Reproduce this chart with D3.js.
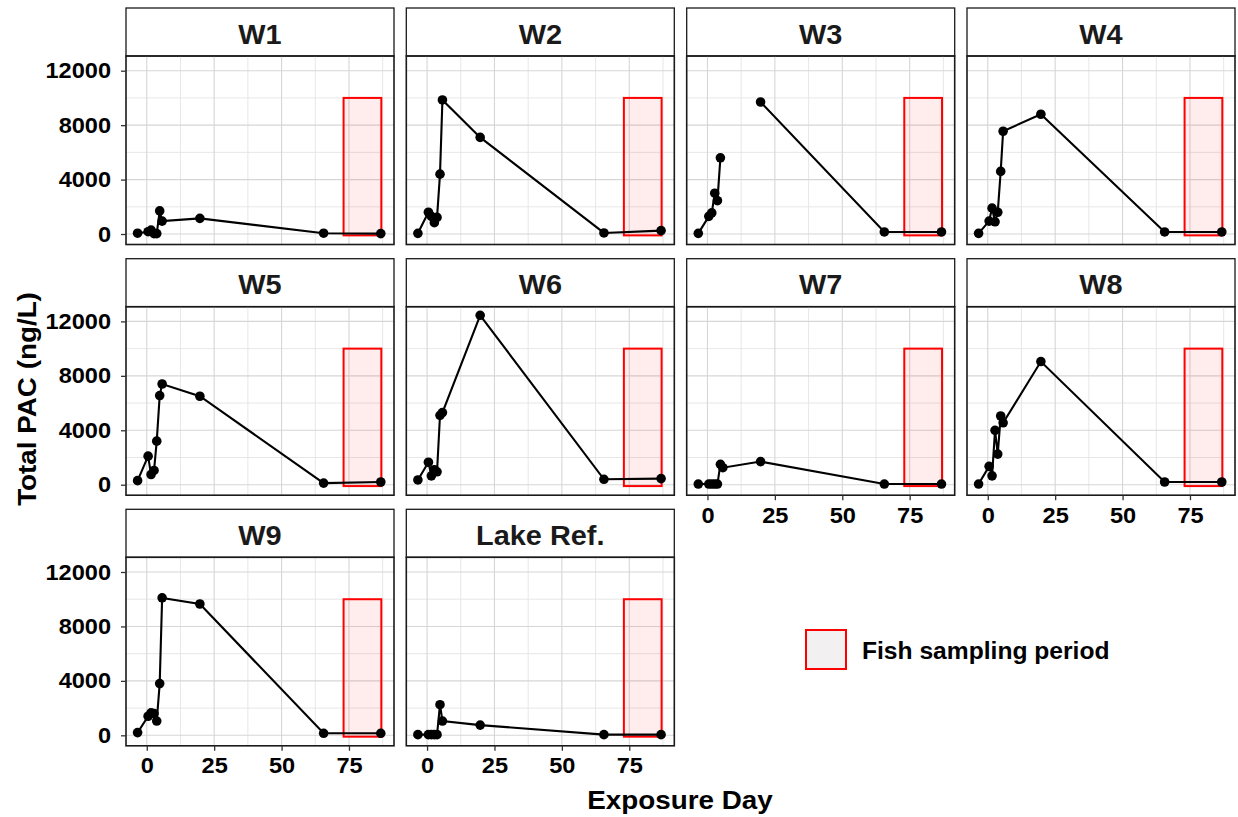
<!DOCTYPE html>
<html>
<head>
<meta charset="utf-8">
<script src="https://cdn.jsdelivr.net/npm/d3@7"></script>
<style>
  html, body { margin: 0; padding: 0; background: #ffffff; }
  svg { display: block; font-family: "Liberation Sans", Arial, sans-serif; }
</style>
</head>
<body>
<svg id="chart" width="1238" height="817"></svg>
<script>
// Sampling days (shared by all sites)
const days = [-3.4, 0.5, 1.6, 2.7, 3.7, 4.8, 5.7, 19.7, 65.6, 86.8];

// Total PAC (ng/L) per site; null = no sample
const W1 = [60, 170, 290, 30, 30, 1700, 950, 1150, 60, 30];
const W2 = [50, 1600, 1300, 830, 1220, 4400, 9850, 7100, 80, 250];
const W3 = [50, 1300, 1550, 3000, 2450, 5600, null, 9700, 150, 150];
const W4 = [50, 950, 1900, 900, 1600, 4600, 7550, 8800, 150, 150];
const W5 = [300, 2100, 750, 1050, 3200, 6550, 7400, 6500, 120, 200];
const W6 = [350, 1650, 650, 1100, 950, 5100, 5300, 12450, 400, 450];
const W7 = [50, 50, 50, 50, 50, 1500, 1250, 1700, 50, 50];
const W8 = [50, 1350, 650, 4000, 2250, 5050, 4550, 9050, 200, 200];
const W9 = [200, 1400, 1650, 1600, 1050, 3800, 10100, 9650, 150, 150];
const LakeRef = [50, 50, 50, 50, 50, 2250, 1050, 750, 50, 50];

const siteNames = ["W1", "W2", "W3", "W4", "W5", "W6", "W7", "W8", "W9", "Lake Ref."];
const siteValues = [W1, W2, W3, W4, W5, W6, W7, W8, W9, LakeRef];

// Fish sampling period
const samplingStart = 73;
const samplingEnd = 87;
const samplingLow = -100;
const samplingHigh = 10000;

const xTicks = [0, 25, 50, 75];
const xMinor = [12.5, 37.5, 62.5, 87.5];
const yTicks = [0, 4000, 8000, 12000];
const yMinor = [2000, 6000, 10000];

const xTitle = "Exposure Day";
const yTitle = "Total PAC (ng/L)";
const legendLabel = "Fish sampling period";

// Layout
const colLeft = [126, 406.3, 686.7, 967];
const rowTop = [8, 258.7, 509.3];
const panelW = 268;
const stripH = 48;
const plotH = 188.5;
const nCols = 4;
const widen = 1.07; // horizontal stretch applied to text runs

const svg = d3.select("#chart");

const x = d3.scaleLinear().domain([-7.7, 91.7]).range([0, panelW]);
const y = d3.scaleLinear().domain([-770, 13080]).range([plotH, 0]);

const line = d3.line()
  .defined(d => d.v != null)
  .x(d => x(d.day))
  .y(d => y(d.v));

function stretch(sel) {
  sel.each(function () {
    const w = this.getComputedTextLength();
    d3.select(this).attr("textLength", w * widen).attr("lengthAdjust", "spacingAndGlyphs");
  });
}

siteNames.forEach((name, i) => {
  const col = i % nCols;
  const row = Math.floor(i / nCols);
  const left = colLeft[col];
  const top = rowTop[row];
  const g = svg.append("g").attr("transform", `translate(${left},${top})`);

  // strip
  g.append("rect")
    .attr("x", 0).attr("y", 0).attr("width", panelW).attr("height", stripH)
    .attr("fill", "#ffffff").attr("stroke", "#1a1a1a").attr("stroke-width", 1.3);
  g.append("text")
    .attr("x", panelW / 2).attr("y", 35.5)
    .attr("text-anchor", "middle")
    .attr("font-size", 27).attr("font-weight", "bold").attr("fill", "#1a1a1a")
    .text(name)
    .call(stretch);

  const p = g.append("g").attr("transform", `translate(0,${stripH})`);

  // grid
  p.append("g").selectAll("line").data(yMinor).join("line")
    .attr("x1", 0).attr("x2", panelW).attr("y1", d => y(d)).attr("y2", d => y(d))
    .attr("stroke", "#e4e4e4").attr("stroke-width", 0.9);
  p.append("g").selectAll("line").data(xMinor).join("line")
    .attr("y1", 0).attr("y2", plotH).attr("x1", d => x(d)).attr("x2", d => x(d))
    .attr("stroke", "#e4e4e4").attr("stroke-width", 0.9);
  p.append("g").selectAll("line").data(yTicks).join("line")
    .attr("x1", 0).attr("x2", panelW).attr("y1", d => y(d)).attr("y2", d => y(d))
    .attr("stroke", "#d6d6d6").attr("stroke-width", 1.1);
  p.append("g").selectAll("line").data(xTicks).join("line")
    .attr("y1", 0).attr("y2", plotH).attr("x1", d => x(d)).attr("x2", d => x(d))
    .attr("stroke", "#d6d6d6").attr("stroke-width", 1.1);

  // sampling period box
  p.append("rect")
    .attr("x", x(samplingStart)).attr("y", y(samplingHigh))
    .attr("width", x(samplingEnd) - x(samplingStart))
    .attr("height", y(samplingLow) - y(samplingHigh))
    .attr("fill", "#ff0000").attr("fill-opacity", 0.075)
    .attr("stroke", "#ff0000").attr("stroke-width", 2);

  // series
  const pts = days.map((day, k) => ({ day, v: siteValues[i][k] }));
  p.append("path").datum(pts)
    .attr("d", line).attr("fill", "none")
    .attr("stroke", "#000000").attr("stroke-width", 2.1);
  p.append("g").selectAll("circle").data(pts.filter(d => d.v != null)).join("circle")
    .attr("cx", d => x(d.day)).attr("cy", d => y(d.v)).attr("r", 4.8)
    .attr("fill", "#000000");

  // border
  p.append("rect")
    .attr("x", 0).attr("y", 0).attr("width", panelW).attr("height", plotH)
    .attr("fill", "none").attr("stroke", "#1a1a1a").attr("stroke-width", 1.6);

  // y axis on first column
  if (col === 0) {
    const ya = p.append("g")
      .call(d3.axisLeft(y).tickValues(yTicks).tickSize(5).tickPadding(10).tickFormat(d3.format("d")));
    ya.select(".domain").remove();
    ya.selectAll(".tick line").attr("stroke", "#333333").attr("stroke-width", 1.3);
    ya.selectAll(".tick text")
      .attr("font-size", 22).attr("font-weight", "bold").attr("fill", "#000000")
      .attr("font-family", "Liberation Sans, Arial, sans-serif")
      .call(stretch);
  }

  // x axis where no panel sits below
  const below = i + nCols;
  if (below >= siteNames.length) {
    const xa = p.append("g").attr("transform", `translate(0,${plotH})`)
      .call(d3.axisBottom(x).tickValues(xTicks).tickSize(5).tickPadding(7).tickFormat(d3.format("d")));
    xa.select(".domain").remove();
    xa.selectAll(".tick line").attr("stroke", "#333333").attr("stroke-width", 1.3);
    xa.selectAll(".tick text")
      .attr("font-size", 22).attr("font-weight", "bold").attr("fill", "#000000")
      .attr("font-family", "Liberation Sans, Arial, sans-serif")
      .call(stretch);
  }
});

// axis titles
svg.append("text")
  .attr("x", 680).attr("y", 809)
  .attr("text-anchor", "middle")
  .attr("font-size", 26).attr("font-weight", "bold").attr("fill", "#000000")
  .text(xTitle)
  .call(stretch);

svg.append("text")
  .attr("transform", "translate(36,399) rotate(-90)")
  .attr("text-anchor", "middle")
  .attr("font-size", 26).attr("font-weight", "bold").attr("fill", "#000000")
  .text(yTitle)
  .call(stretch);

// legend
const lg = svg.append("g").attr("transform", "translate(806,630)");
lg.append("rect")
  .attr("x", 0).attr("y", 0).attr("width", 40).attr("height", 39)
  .attr("fill", "#f2f0f0").attr("stroke", "#ff0000").attr("stroke-width", 2);
lg.append("text")
  .attr("x", 56).attr("y", 29)
  .attr("font-size", 23).attr("font-weight", "bold").attr("fill", "#000000")
  .text(legendLabel)
  .call(stretch);
</script>
</body>
</html>
